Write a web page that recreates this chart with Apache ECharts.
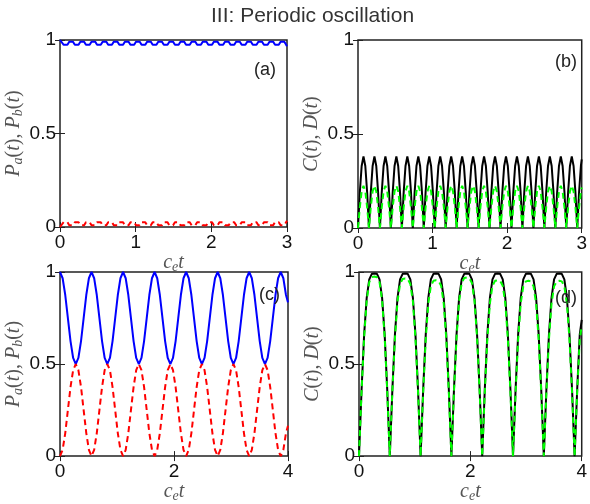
<!DOCTYPE html>
<html><head><meta charset="utf-8">
<script src="https://cdn.jsdelivr.net/npm/echarts@6/dist/echarts.min.js"></script>
<style>html,body{margin:0;padding:0;background:#fff}#c{width:590px;height:504px}</style>
</head><body><div id="c"></div>
<script>
// ---- Data ----
const titleText = 'III: Periodic oscillation';
const panelLabels = ['(a)', '(b)', '(c)', '(d)'];
const xTicksTop = [0, 1, 2, 3];
const xTicksBottom = [0, 2, 4];
const yTicks = [0, 0.5, 1];

// sample times, top panels (a),(b)
const tTop = [0,0.0245,0.049,0.0735,0.098,0.1225,0.147,0.1715,0.196,0.2205,0.245,0.2695,0.294,0.3185,0.343,0.3675,0.392,0.4165,0.441,0.4655,
0.49,0.5145,0.539,0.5635,0.588,0.6125,0.637,0.6615,0.686,0.7105,0.735,0.7595,0.784,0.8085,0.833,0.8575,0.882,0.9065,0.931,0.9555,
0.98,1.0045,1.029,1.0535,1.078,1.1025,1.127,1.1515,1.176,1.2005,1.225,1.2495,1.274,1.2985,1.323,1.3475,1.372,1.3965,1.421,1.4455,
1.47,1.4945,1.519,1.5435,1.568,1.5925,1.617,1.6415,1.666,1.6905,1.715,1.7395,1.764,1.7885,1.813,1.8375,1.862,1.8865,1.911,1.9355,
1.96,1.9845,2.009,2.0335,2.058,2.0825,2.107,2.1315,2.156,2.1805,2.205,2.2295,2.254,2.2785,2.303,2.3275,2.352,2.3765,2.401,2.4255,
2.45,2.4745,2.499,2.5235,2.548,2.5725,2.597,2.6215,2.646,2.6705,2.695,2.7195,2.744,2.7685,2.793,2.8175,2.842,2.8665,2.891,2.9155,
2.94,2.9645,2.989,3.0];

const paTop = [
1,0.991,0.974,0.965,0.974,0.991, 1,0.991,0.974,0.965,0.974,0.991,
1,0.991,0.974,0.965,0.974,0.991, 1,0.991,0.974,0.965,0.974,0.991,
1,0.991,0.974,0.965,0.974,0.991, 1,0.991,0.974,0.965,0.974,0.991,
1,0.991,0.974,0.965,0.974,0.991, 1,0.991,0.974,0.965,0.974,0.991,
1,0.991,0.974,0.965,0.974,0.991, 1,0.991,0.974,0.965,0.974,0.991,
1,0.991,0.974,0.965,0.974,0.991, 1,0.991,0.974,0.965,0.974,0.991,
1,0.991,0.974,0.965,0.974,0.991, 1,0.991,0.974,0.965,0.974,0.991,
1,0.991,0.974,0.965,0.974,0.991, 1,0.991,0.974,0.965,0.974,0.991,
1,0.991,0.974,0.965,0.974,0.991, 1,0.991,0.974,0.965,0.974,0.991,
1,0.991,0.974,0.965,0.974,0.991, 1,0.991,0.974,0.965,0.974,0.991,
1,0.991,0.974,0.967];

const pbTop = [
0,0.009,0.026,0.035,0.026,0.009, 0,0.009,0.026,0.035,0.026,0.009,
0,0.009,0.026,0.035,0.026,0.009, 0,0.009,0.026,0.035,0.026,0.009,
0,0.009,0.026,0.035,0.026,0.009, 0,0.009,0.026,0.035,0.026,0.009,
0,0.009,0.026,0.035,0.026,0.009, 0,0.009,0.026,0.035,0.026,0.009,
0,0.009,0.026,0.035,0.026,0.009, 0,0.009,0.026,0.035,0.026,0.009,
0,0.009,0.026,0.035,0.026,0.009, 0,0.009,0.026,0.035,0.026,0.009,
0,0.009,0.026,0.035,0.026,0.009, 0,0.009,0.026,0.035,0.026,0.009,
0,0.009,0.026,0.035,0.026,0.009, 0,0.009,0.026,0.035,0.026,0.009,
0,0.009,0.026,0.035,0.026,0.009, 0,0.009,0.026,0.035,0.026,0.009,
0,0.009,0.026,0.035,0.026,0.009, 0,0.009,0.026,0.035,0.026,0.009,
0,0.009,0.026,0.033];

const cTop = [
0,0.19,0.33,0.38,0.33,0.19, 0,0.19,0.33,0.38,0.33,0.19,
0,0.19,0.33,0.38,0.33,0.19, 0,0.19,0.33,0.38,0.33,0.19,
0,0.19,0.33,0.38,0.33,0.19, 0,0.19,0.33,0.38,0.33,0.19,
0,0.19,0.33,0.38,0.33,0.19, 0,0.19,0.33,0.38,0.33,0.19,
0,0.19,0.33,0.38,0.33,0.19, 0,0.19,0.33,0.38,0.33,0.19,
0,0.19,0.33,0.38,0.33,0.19, 0,0.19,0.33,0.38,0.33,0.19,
0,0.19,0.33,0.38,0.33,0.19, 0,0.19,0.33,0.38,0.33,0.19,
0,0.19,0.33,0.38,0.33,0.19, 0,0.19,0.33,0.38,0.33,0.19,
0,0.19,0.33,0.38,0.33,0.19, 0,0.19,0.33,0.38,0.33,0.19,
0,0.19,0.33,0.38,0.33,0.19, 0,0.19,0.33,0.38,0.33,0.19,
0,0.19,0.33,0.365];

const dTop = [
0,0.11,0.195,0.225,0.195,0.11, 0,0.11,0.195,0.225,0.195,0.11,
0,0.11,0.195,0.225,0.195,0.11, 0,0.11,0.195,0.225,0.195,0.11,
0,0.11,0.195,0.225,0.195,0.11, 0,0.11,0.195,0.225,0.195,0.11,
0,0.11,0.195,0.225,0.195,0.11, 0,0.11,0.195,0.225,0.195,0.11,
0,0.11,0.195,0.225,0.195,0.11, 0,0.11,0.195,0.225,0.195,0.11,
0,0.11,0.195,0.225,0.195,0.11, 0,0.11,0.195,0.225,0.195,0.11,
0,0.11,0.195,0.225,0.195,0.11, 0,0.11,0.195,0.225,0.195,0.11,
0,0.11,0.195,0.225,0.195,0.11, 0,0.11,0.195,0.225,0.195,0.11,
0,0.11,0.195,0.225,0.195,0.11, 0,0.11,0.195,0.225,0.195,0.11,
0,0.11,0.195,0.225,0.195,0.11, 0,0.11,0.195,0.225,0.195,0.11,
0,0.11,0.195,0.215];

// sample times, bottom panels (c),(d)
const tBottom = [0,0.0461,0.0922,0.1383,0.1844,0.2305,0.2766,0.3227,0.3688,0.4149,0.461,0.5071,
0.5532,0.5993,0.6454,0.6915,0.7376,0.7837,0.8298,0.8759,0.922,0.9681,1.0142,1.0603,
1.1064,1.1525,1.1986,1.2447,1.2908,1.3369,1.383,1.4291,1.4752,1.5213,1.5674,1.6135,
1.6596,1.7057,1.7518,1.7979,1.844,1.8901,1.9362,1.9823,2.0284,2.0745,2.1206,2.1667,
2.2128,2.2589,2.305,2.3511,2.3972,2.4433,2.4894,2.5355,2.5816,2.6277,2.6738,2.7199,
2.766,2.8121,2.8582,2.9043,2.9504,2.9965,3.0426,3.0887,3.1348,3.1809,3.227,3.2731,
3.3192,3.3653,3.4114,3.4575,3.5036,3.5497,3.5958,3.6419,3.688,3.7341,3.7802,3.8263,
3.8724,3.9185,3.9646,4.0];

const paBottom = [
1,0.966,0.875,0.75,0.625,0.533,0.5,0.533,0.625,0.75,0.875,0.966,
1,0.966,0.875,0.75,0.625,0.533,0.5,0.533,0.625,0.75,0.875,0.966,
1,0.966,0.875,0.75,0.625,0.533,0.5,0.533,0.625,0.75,0.875,0.966,
1,0.966,0.875,0.75,0.625,0.533,0.5,0.533,0.625,0.75,0.875,0.966,
1,0.966,0.875,0.75,0.625,0.533,0.5,0.533,0.625,0.75,0.875,0.966,
1,0.966,0.875,0.75,0.625,0.533,0.5,0.533,0.625,0.75,0.875,0.966,
1,0.966,0.875,0.75,0.625,0.533,0.5,0.533,0.625,0.75,0.875,0.966,
1,0.966,0.875,0.835];

const pbBottom = [
0,0.034,0.125,0.25,0.375,0.467,0.5,0.467,0.375,0.25,0.125,0.034,
0,0.034,0.125,0.25,0.375,0.467,0.5,0.467,0.375,0.25,0.125,0.034,
0,0.034,0.125,0.25,0.375,0.467,0.5,0.467,0.375,0.25,0.125,0.034,
0,0.034,0.125,0.25,0.375,0.467,0.5,0.467,0.375,0.25,0.125,0.034,
0,0.034,0.125,0.25,0.375,0.467,0.5,0.467,0.375,0.25,0.125,0.034,
0,0.034,0.125,0.25,0.375,0.467,0.5,0.467,0.375,0.25,0.125,0.034,
0,0.034,0.125,0.25,0.375,0.467,0.5,0.467,0.375,0.25,0.125,0.034,
0,0.034,0.125,0.165];

const cBottom = [
0,0.36,0.66,0.86,0.96,0.99,0.992,0.99,0.96,0.86,0.66,0.36,
0,0.36,0.66,0.86,0.96,0.99,0.992,0.99,0.96,0.86,0.66,0.36,
0,0.36,0.66,0.86,0.96,0.99,0.992,0.99,0.96,0.86,0.66,0.36,
0,0.36,0.66,0.86,0.96,0.99,0.992,0.99,0.96,0.86,0.66,0.36,
0,0.36,0.66,0.86,0.96,0.99,0.992,0.99,0.96,0.86,0.66,0.36,
0,0.36,0.66,0.86,0.96,0.99,0.992,0.99,0.96,0.86,0.66,0.36,
0,0.36,0.66,0.86,0.96,0.99,0.992,0.99,0.96,0.86,0.66,0.36,
0,0.36,0.66,0.74];

const dBottom = [
0,0.35,0.645,0.845,0.945,0.972,0.975,0.972,0.945,0.845,0.645,0.35,
0,0.35,0.64,0.84,0.935,0.962,0.965,0.962,0.935,0.84,0.64,0.35,
0,0.345,0.635,0.83,0.925,0.952,0.955,0.952,0.925,0.83,0.635,0.345,
0,0.35,0.643,0.843,0.94,0.967,0.97,0.967,0.94,0.843,0.643,0.35,
0,0.345,0.635,0.83,0.925,0.952,0.955,0.952,0.925,0.83,0.635,0.345,
0,0.345,0.633,0.828,0.922,0.949,0.952,0.949,0.922,0.828,0.633,0.345,
0,0.345,0.633,0.828,0.922,0.949,0.952,0.949,0.922,0.828,0.633,0.345,
0,0.345,0.633,0.71];

// ---- Styling / layout ----
const grids = [
  {left: 60, top: 40, width: 227, height: 187},
  {left: 358, top: 40, width: 225, height: 188},
  {left: 60, top: 272, width: 228, height: 189},
  {left: 359, top: 272, width: 228, height: 189}
];
const xMax = [3, 3, 4, 4];
const xInt = [1, 1, 2, 2];
const frameColor = '#222';
const tickFont = {fontFamily: 'Liberation Sans', fontSize: 19, color: '#111'};
const nameColor = '#555';
const rich = {
  i: {fontFamily: 'Liberation Serif', fontStyle: 'italic', fontSize: 20, color: nameColor, lineHeight: 22},
  r: {fontFamily: 'Liberation Serif', fontSize: 20, color: nameColor, lineHeight: 22},
  s: {fontFamily: 'Liberation Serif', fontStyle: 'italic', fontSize: 14, color: nameColor, lineHeight: 13, verticalAlign: 'bottom'}
};
const xName = '{i|c}{s|e}{i|t}';
const yNamesText = [
  '{i|P}{s|a}{r|(}{i|t}{r|), }{i|P}{s|b}{r|(}{i|t}{r|)}',
  '{i|C}{r|(}{i|t}{r|), }{i|D}{r|(}{i|t}{r|)}',
  '{i|P}{s|a}{r|(}{i|t}{r|), }{i|P}{s|b}{r|(}{i|t}{r|)}',
  '{i|C}{r|(}{i|t}{r|), }{i|D}{r|(}{i|t}{r|)}'
];

const xAxes = [], yAxes = [];
grids.forEach((g, k) => {
  const tickStyle = {show: true, inside: true, length: 5, lineStyle: {color: frameColor, width: 1}};
  xAxes.push({
    type: 'value', gridIndex: k, min: 0, max: xMax[k], interval: xInt[k], position: 'bottom',
    axisLine: {show: false}, splitLine: {show: false}, axisTick: tickStyle,
    axisLabel: Object.assign({margin: 6}, tickFont),
    name: xName, nameLocation: 'middle', nameGap: k < 2 ? 17 : 21,
    nameTextStyle: {rich: rich}
  });
  xAxes.push({
    type: 'value', gridIndex: k, min: 0, max: xMax[k], interval: xInt[k], position: 'top',
    axisLine: {show: false}, splitLine: {show: false}, axisTick: tickStyle, axisLabel: {show: false}
  });
  yAxes.push({
    type: 'value', gridIndex: k, min: 0, max: 1, interval: 0.5, position: 'left',
    axisLine: {show: false}, splitLine: {show: false}, axisTick: tickStyle,
    axisLabel: Object.assign({margin: 4}, tickFont),
    name: yNamesText[k], nameLocation: 'middle', nameGap: 35,
    nameTextStyle: {rich: rich}
  });
  yAxes.push({
    type: 'value', gridIndex: k, min: 0, max: 1, interval: 0.5, position: 'right',
    axisLine: {show: false}, splitLine: {show: false}, axisTick: tickStyle, axisLabel: {show: false}
  });
});

function pairs(ts, ys) { return ts.map((t, i) => [t, ys[i]]); }
function line(k, data, color, dashed) {
  return {
    type: 'line', xAxisIndex: 2 * k, yAxisIndex: 2 * k, data: data,
    showSymbol: false, symbol: 'none', clip: true, animation: false,
    lineStyle: {color: color, width: 2, type: dashed ? [6, 4] : 'solid'}
  };
}

const series = [
  line(0, pairs(tTop, paTop), '#0000ff', false),
  line(0, pairs(tTop, pbTop), '#ff0000', true),
  line(1, pairs(tTop, cTop), '#000000', false),
  line(1, pairs(tTop, dTop), '#00ff00', true),
  line(2, pairs(tBottom, paBottom), '#0000ff', false),
  line(2, pairs(tBottom, pbBottom), '#ff0000', true),
  line(3, pairs(tBottom, cBottom), '#000000', false),
  line(3, pairs(tBottom, dBottom), '#00ff00', true)
];

const labelPos = [[254, 61], [555, 53], [259, 286], [555, 289]];
const titles = [{
  text: titleText, left: 206, top: 1,
  textStyle: {fontFamily: 'Liberation Sans', fontSize: 21, fontWeight: 'normal', color: '#333'}
}];
panelLabels.forEach((p, k) => titles.push({
  text: p, left: labelPos[k][0], top: labelPos[k][1], padding: 0,
  textStyle: {fontFamily: 'Liberation Sans', fontSize: 18, fontWeight: 'normal', color: '#222'}
}));

const chart = echarts.init(document.getElementById('c'), null, {renderer: 'canvas'});
chart.setOption({
  animation: false,
  backgroundColor: '#fff',
  title: titles,
  grid: grids.map(g => Object.assign({show: true, borderColor: frameColor, borderWidth: 1.5, backgroundColor: 'transparent', containLabel: false}, g)),
  xAxis: xAxes,
  yAxis: yAxes,
  series: series
});
</script></body></html>
